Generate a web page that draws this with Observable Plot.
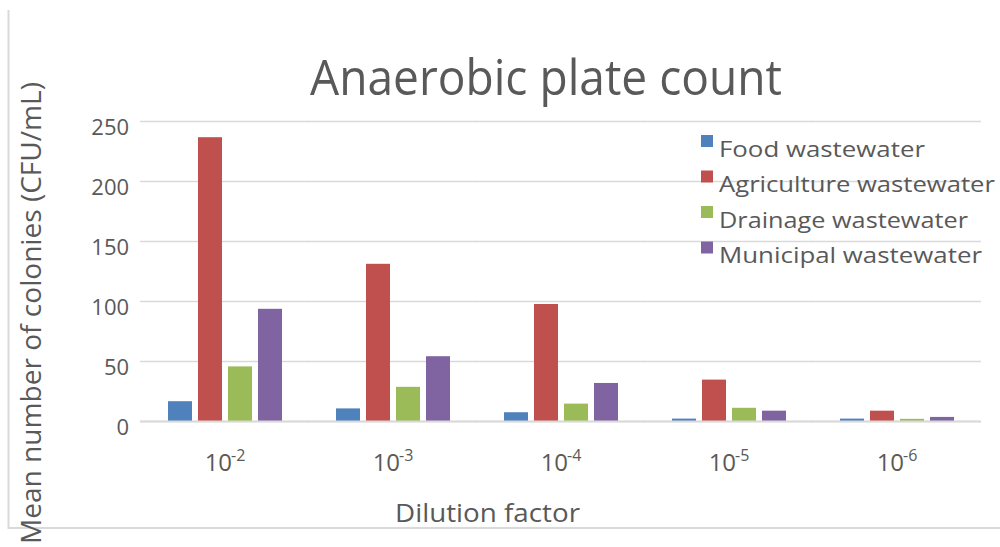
<!DOCTYPE html>
<html>
<head>
<meta charset="utf-8">
<script src="https://cdn.jsdelivr.net/npm/d3@7"></script>
<script src="https://cdn.jsdelivr.net/npm/@observablehq/plot@0.6"></script>
<style>
  body { margin: 0; background: #fff; }
  #wrap { position: relative; width: 1000px; height: 547px; overflow: hidden; font-family: "Open Sans", sans-serif; }
  #wrap > svg { position: absolute; left: 0; top: 0; }
</style>
</head>
<body>
<div id="wrap"></div>
<script>
// ---- data ----
const dilutionExponents = ["-2", "-3", "-4", "-5", "-6"];
const dilutions = dilutionExponents.map(e => "10^" + e);
const series = ["Food wastewater", "Agriculture wastewater", "Drainage wastewater", "Municipal wastewater"];
const colors = ["#4F81BD", "#C0504D", "#9BBB59", "#8064A2"];
const food = [16.5, 10.5, 7.3, 2, 2];
const agriculture = [236.5, 131, 97.5, 34.5, 8.6];
const drainage = [45.5, 28.5, 14.5, 11, 1.8];
const municipal = [93.5, 54, 31.7, 8.6, 3.4];
const yTicks = [0, 50, 100, 150, 200, 250];
const titleText = "Anaerobic plate count";
const xLabel = "Dilution factor";
const yLabel = "Mean number of colonies (CFU/mL)";

const valuesBySeries = [food, agriculture, drainage, municipal];
const rows = dilutions.flatMap((d, i) => series.map((s, j) => ({dilution: d, series: s, value: valuesBySeries[j][i]})));

const textColor = "#595959";
const gridColor = "#D9D9D9";

// layout
const W = 1000, H = 547, mL = 140, mR = 18, mT = 121, mB = 126;
const fxPadInner = 0.314, fxPadOuter = 0.157;
const fxStep = (W - mL - mR) / (dilutions.length - fxPadInner + 2 * fxPadOuter);
const halfGap = (fxPadInner * fxStep) / 2;
const gridExtend = -halfGap - 0.5; // negative inset so per-facet grid lines join
const firstFacetOffset = fxPadOuter * fxStep; // y axis sits at the first facet's left edge

const chart = Plot.plot({
  width: W,
  height: H,
  marginLeft: mL,
  marginRight: mR,
  marginTop: mT,
  marginBottom: mB,
  style: {fontFamily: '"Open Sans", sans-serif', color: textColor, background: "transparent", overflow: "visible"},
  fx: {domain: dilutions, paddingInner: fxPadInner, paddingOuter: fxPadOuter},
  x: {domain: series, paddingInner: 0.212, paddingOuter: 0, axis: null},
  y: {domain: [0, 250]},
  color: {domain: series, range: colors},
  marks: [
    Plot.ruleY(yTicks, {stroke: gridColor, strokeWidth: 1.5, insetLeft: gridExtend, insetRight: gridExtend}),
    Plot.barY(rows, {fx: "dilution", x: "series", y: "value", fill: "series"}),
    Plot.ruleY([0], {stroke: gridColor, strokeWidth: 2, insetLeft: gridExtend, insetRight: gridExtend}),
    Plot.axisY(yTicks, {tickSize: 0, tickPadding: firstFacetOffset + 12, fontSize: 22, label: null, dy: 6}),
    Plot.axisFx({tickSize: 0, tickPadding: 32, fontSize: 24, label: null, anchor: "bottom"})
  ]
});
document.getElementById("wrap").appendChild(chart);

// superscript exponents on the dilution tick labels
d3.select(chart).selectAll('g[aria-label="fx-axis tick label"] text').each(function() {
  const t = d3.select(this);
  const raw = t.text();
  if (!raw.includes("^")) return;
  const [base, exp] = raw.split("^");
  t.text(base);
  t.append("tspan").attr("font-size", "16px").attr("dy", "-10").attr("dx", "-1").text(exp);
});

// ---- overlay: border, title, axis titles, legend ----
const ov = d3.select("#wrap").append("svg")
  .attr("width", W).attr("height", H)
  .style("font-family", '"Open Sans", sans-serif');

ov.append("path")
  .attr("d", "M8.5,10 V528 H1000")
  .attr("fill", "none").attr("stroke", gridColor).attr("stroke-width", 2);

ov.append("text")
  .attr("x", 546).attr("y", 95)
  .attr("text-anchor", "middle")
  .attr("font-size", 50)
  .attr("fill", textColor)
  .attr("textLength", 472).attr("lengthAdjust", "spacingAndGlyphs")
  .text(titleText);

ov.append("text")
  .attr("x", 487.5).attr("y", 521.5)
  .attr("text-anchor", "middle")
  .attr("font-size", 25)
  .attr("fill", textColor)
  .attr("textLength", 185).attr("lengthAdjust", "spacingAndGlyphs")
  .text(xLabel);

ov.append("text")
  .attr("transform", "translate(41,313) rotate(-90)")
  .attr("text-anchor", "middle")
  .attr("font-size", 28)
  .attr("fill", textColor)
  .attr("textLength", 462).attr("lengthAdjust", "spacingAndGlyphs")
  .text(yLabel);

const legendWidths = [206, 276, 249, 263];
const lg = ov.append("g");
series.forEach((s, i) => {
  const top = 135 + i * 35.5;
  lg.append("rect").attr("x", 701).attr("y", top).attr("width", 12).attr("height", 12).attr("fill", colors[i]);
  lg.append("text")
    .attr("x", 719).attr("y", top + 21.7)
    .attr("font-size", 21.5)
    .attr("fill", textColor)
    .attr("textLength", legendWidths[i]).attr("lengthAdjust", "spacingAndGlyphs")
    .text(s);
});
</script>
</body>
</html>
